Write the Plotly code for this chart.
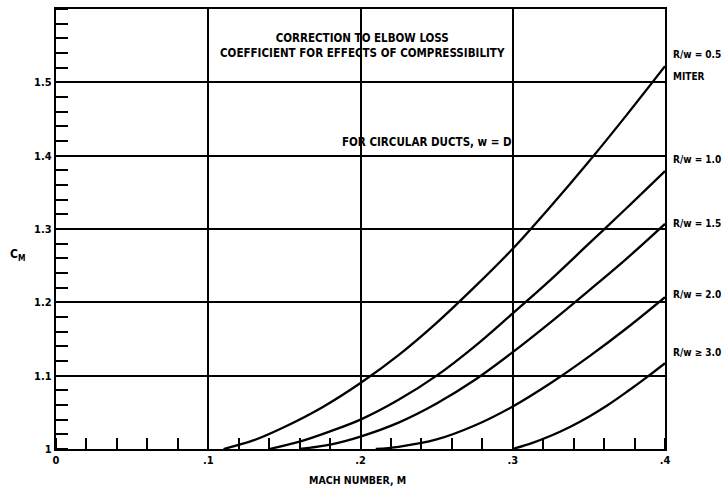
import plotly.graph_objects as go

# ---- data ----
m_miter = [0.11, 0.13, 0.15, 0.175, 0.2, 0.225, 0.25, 0.275, 0.3, 0.325, 0.35, 0.375, 0.4]
c_miter = [1.0, 1.012, 1.03, 1.057, 1.09, 1.128, 1.172, 1.221, 1.273, 1.331, 1.392, 1.456, 1.522]

m_r10 = [0.14, 0.16, 0.18, 0.2, 0.225, 0.25, 0.275, 0.3, 0.325, 0.35, 0.375, 0.4]
c_r10 = [1.0, 1.01, 1.024, 1.04, 1.067, 1.1, 1.14, 1.185, 1.231, 1.28, 1.329, 1.379]

m_r15 = [0.16, 0.18, 0.2, 0.225, 0.25, 0.275, 0.3, 0.325, 0.35, 0.375, 0.4]
c_r15 = [1.0, 1.006, 1.017, 1.036, 1.062, 1.094, 1.132, 1.173, 1.216, 1.26, 1.307]

m_r20 = [0.21, 0.225, 0.25, 0.275, 0.3, 0.325, 0.35, 0.375, 0.4]
c_r20 = [1.0, 1.003, 1.013, 1.032, 1.058, 1.09, 1.126, 1.165, 1.207]

m_r30 = [0.3, 0.3125, 0.325, 0.3375, 0.35, 0.3625, 0.375, 0.3875, 0.4]
c_r30 = [1.0, 1.008, 1.018, 1.03, 1.044, 1.06, 1.078, 1.097, 1.117]

curve_labels = ["R/w = 0.5", "MITER", "R/w = 1.0", "R/w = 1.5", "R/w = 2.0", "R/w ≥ 3.0"]
label_y = [1.538, 1.508, 1.395, 1.308, 1.211, 1.132]

x_tickvals = [0, 0.1, 0.2, 0.3, 0.4]
x_ticktext = ["0", ".1", ".2", ".3", ".4"]
y_tickvals = [1.0, 1.1, 1.2, 1.3, 1.4, 1.5]
y_ticktext = ["1", "1.1", "1.2", "1.3", "1.4", "1.5"]

FONT = "DejaVu Sans Condensed, sans-serif"

fig = go.Figure()
for mx, cy in [(m_miter, c_miter), (m_r10, c_r10), (m_r15, c_r15), (m_r20, c_r20), (m_r30, c_r30)]:
    fig.add_trace(go.Scatter(x=mx, y=cy, mode="lines",
                             line=dict(color="black", width=2.3, shape="spline", smoothing=1.0),
                             showlegend=False, hoverinfo="skip"))

fig.update_layout(
    width=724, height=489,
    margin=dict(l=56, r=59, t=7, b=40),
    paper_bgcolor="white", plot_bgcolor="white",
    font=dict(family=FONT, color="black", size=10),
)
fig.update_xaxes(
    range=[0, 0.4], tickvals=x_tickvals, ticktext=x_ticktext,
    showgrid=True, gridcolor="black", gridwidth=1.7,
    showline=True, linecolor="black", linewidth=2.3, mirror=True,
    ticks="", tickfont=dict(family=FONT, size=11, color="black", weight="bold"),
    minor=dict(ticks="inside", dtick=0.02, tick0=0, ticklen=11, tickwidth=1.5, tickcolor="black", showgrid=False),
    zeroline=False,
)
fig.update_yaxes(
    range=[1.0, 1.6], tickvals=y_tickvals, ticktext=y_ticktext,
    showgrid=True, gridcolor="black", gridwidth=1.7,
    showline=True, linecolor="black", linewidth=2.3, mirror=True,
    ticks="", tickfont=dict(family=FONT, size=11, color="black", weight="bold"),
    minor=dict(ticks="inside", dtick=0.02, tick0=1.0, ticklen=12, tickwidth=1.5, tickcolor="black", showgrid=False),
    zeroline=False,
)

# right-side curve labels
for txt, yv in zip(curve_labels, label_y):
    fig.add_annotation(x=1.0, xref="paper", y=yv, yref="y", text=txt, showarrow=False,
                       xanchor="left", xshift=6, font=dict(family=FONT, size=10, color="black", weight="bold"))

# titles inside the plot
fig.add_annotation(x=0.201, y=1.55, xref="x", yref="y",
                   text="CORRECTION TO ELBOW LOSS<br>COEFFICIENT FOR EFFECTS OF COMPRESSIBILITY",
                   showarrow=False, align="center",
                   font=dict(family=FONT, size=11.5, color="black", weight="bold"))
fig.add_annotation(x=0.244, y=1.418, xref="x", yref="y",
                   text="FOR CIRCULAR DUCTS, w = D", showarrow=False,
                   font=dict(family=FONT, size=11.5, color="black", weight="bold"))

# axis titles
fig.add_annotation(x=-0.079, y=1.265, xref="paper", yref="y",
                   text="C<sub>M</sub>", showarrow=False,
                   font=dict(family=FONT, size=12, color="black", weight="bold"))
fig.add_annotation(x=0.198, y=-0.071, xref="x", yref="paper",
                   text="MACH NUMBER, M", showarrow=False, yanchor="middle",
                   font=dict(family=FONT, size=10.5, color="black", weight="bold"))

fig.write_html("out.html")
